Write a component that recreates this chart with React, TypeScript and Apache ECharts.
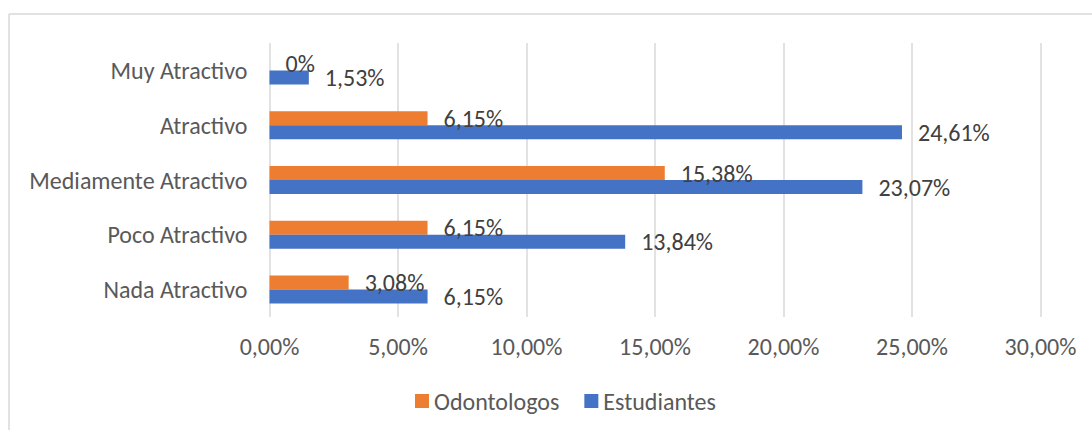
import React, { useEffect, useRef } from "react";
import * as echarts from "echarts";

const categories = ["Nada Atractivo", "Poco Atractivo", "Mediamente Atractivo", "Atractivo", "Muy Atractivo"];
const estudiantes = [6.15, 13.84, 23.07, 24.61, 1.53];
const odontologos = [3.08, 6.15, 15.38, 6.15, 0];
const xTicks = { min: 0, max: 30, interval: 5 };

const FONT = "Carlito, Calibri, Lato, sans-serif";
const FS = 24;

function fmtLabel(v: number) {
  return v === 0 ? "0%" : v.toFixed(2).replace(".", ",") + "%";
}

export default function App() {
  const ref = useRef<HTMLDivElement>(null);
  useEffect(() => {
    document.body.style.margin = "0";
    const chart = echarts.init(ref.current!, null, { renderer: "svg" });
    const labelCfg = {
      show: true,
      position: "right",
      distance: 16,
      color: "#404040",
      fontSize: FS,
      fontFamily: FONT,
      formatter: (p: any) => fmtLabel(p.value),
    };
    chart.setOption({
      animation: false,
      textStyle: { fontFamily: FONT },
      grid: { left: 269.5, right: 51.5, top: 43, bottom: 113 },
      legend: {
        data: ["Odontologos", "Estudiantes"],
        left: 410,
        top: 384,
        icon: "rect",
        itemWidth: 14,
        itemHeight: 14,
        itemGap: 25,
        textStyle: { color: "#595959", fontSize: FS, fontFamily: FONT },
      },
      xAxis: {
        type: "value",
        min: xTicks.min,
        max: xTicks.max,
        interval: xTicks.interval,
        axisLine: { show: false },
        axisTick: { show: false },
        axisLabel: {
          color: "#595959",
          fontSize: FS,
          margin: 17,
          formatter: (v: number) => v.toFixed(2).replace(".", ",") + "%",
        },
        splitLine: { show: true, lineStyle: { color: "#d9d9d9", width: 1.5 } },
      },
      yAxis: {
        type: "category",
        data: categories,
        axisLine: { show: false },
        axisTick: { show: false },
        axisLabel: { color: "#595959", fontSize: FS, margin: 22 },
      },
      series: [
        {
          name: "Odontologos",
          type: "bar",
          data: odontologos,
          barWidth: 14,
          barGap: "0%",
          itemStyle: { color: "#ed7d31" },
          label: labelCfg,
        },
        {
          name: "Estudiantes",
          type: "bar",
          data: estudiantes,
          barWidth: 14,
          barGap: "0%",
          itemStyle: { color: "#4472c4" },
          label: labelCfg,
        },
      ],
      graphic: [
        { type: "line", shape: { x1: 9, y1: 14, x2: 1092, y2: 14 }, style: { stroke: "#d9d9d9", lineWidth: 1.5 } },
        { type: "line", shape: { x1: 9, y1: 14, x2: 9, y2: 430 }, style: { stroke: "#d9d9d9", lineWidth: 1.5 } },
      ],
    });
    return () => chart.dispose();
  }, []);
  return <div ref={ref} style={{ width: 1092, height: 430 }} />;
}
